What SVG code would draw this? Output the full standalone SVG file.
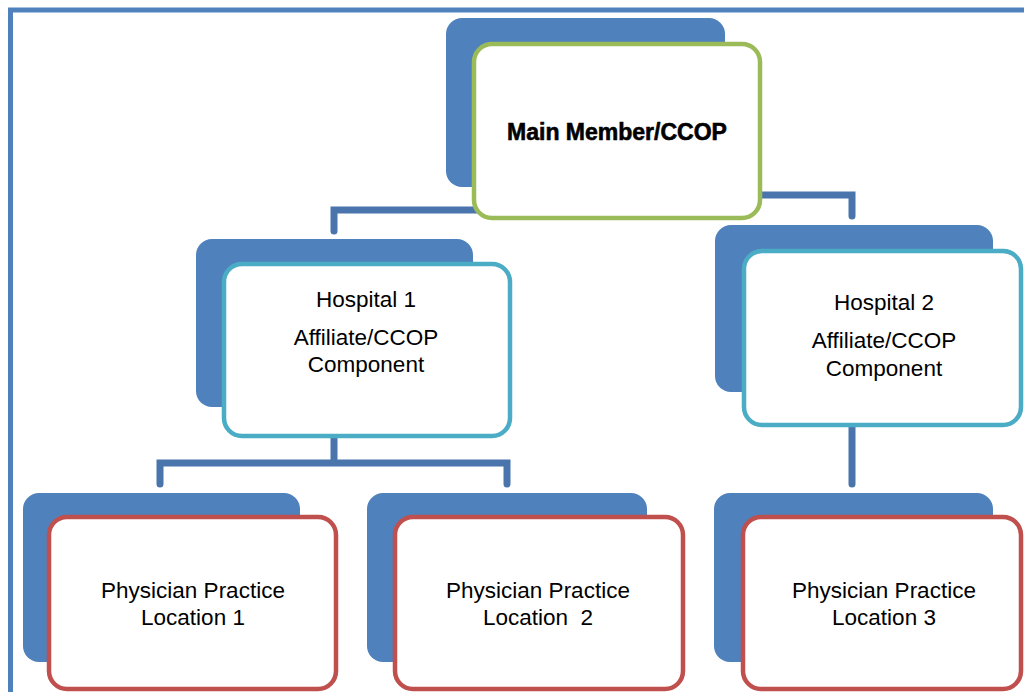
<svg xmlns="http://www.w3.org/2000/svg" width="1024" height="692" viewBox="0 0 1024 692">
<style>
.back{fill:#4F81BD}
.front{fill:#FFFFFF;stroke-width:4.5}
.g{stroke:#9BBB59}
.c{stroke:#4BACC6}
.r{stroke:#C0504D}
.conn{fill:none;stroke:#4A75AC;stroke-width:7;stroke-linejoin:miter;stroke-linecap:round}
text{font-family:"Liberation Sans",Arial,sans-serif;font-size:22.5px;fill:#000;text-anchor:middle}
.title{font-weight:bold;font-size:23px;stroke:#000;stroke-width:0.6}
</style>
<rect x="0" y="0" width="1024" height="692" fill="#FFFFFF"/>
<path d="M10.5 692 V10 H1024" fill="none" stroke="#4F81BD" stroke-width="5"/>
<g id="connectors">
<path class="conn" d="M334 231 V210 H480"/>
<path class="conn" d="M755 195 H852 V216"/>
<path class="conn" d="M334 438 V463 M160 484 V463 H507 V484"/>
<path class="conn" d="M852 427 V484"/>
</g>
<g id="main">
<rect class="back" x="446" y="18" width="279" height="169" rx="16"/>
<rect class="front g" x="474" y="44" width="286" height="174" rx="18"/>
<text class="title" x="617" y="140">Main Member/CCOP</text>
</g>
<g id="hospital1">
<rect class="back" x="196" y="239" width="277" height="168" rx="16"/>
<rect class="front c" x="224" y="264" width="286" height="172" rx="18"/>
<text x="366" y="307">Hospital 1</text>
<text x="366" y="345">Affiliate/CCOP</text>
<text x="366" y="372">Component</text>
</g>
<g id="hospital2">
<rect class="back" x="715" y="225" width="278" height="167" rx="16"/>
<rect class="front c" x="744" y="251" width="277" height="174" rx="18"/>
<text x="884" y="310">Hospital 2</text>
<text x="884" y="348">Affiliate/CCOP</text>
<text x="884" y="376">Component</text>
</g>
<g id="physician1">
<rect class="back" x="23" y="493" width="277" height="169" rx="16"/>
<rect class="front r" x="49" y="517" width="287" height="172" rx="18"/>
<text x="193" y="598">Physician Practice</text>
<text x="193" y="625">Location 1</text>
</g>
<g id="physician2">
<rect class="back" x="367" y="493" width="280" height="169" rx="16"/>
<rect class="front r" x="395" y="517" width="288" height="172" rx="18"/>
<text x="538" y="598">Physician Practice</text>
<text x="538" y="625" style="white-space:pre">Location  2</text>
</g>
<g id="physician3">
<rect class="back" x="714" y="493" width="279" height="169" rx="16"/>
<rect class="front r" x="743" y="517" width="278" height="172" rx="18"/>
<text x="884" y="598">Physician Practice</text>
<text x="884" y="625">Location 3</text>
</g>
</svg>
